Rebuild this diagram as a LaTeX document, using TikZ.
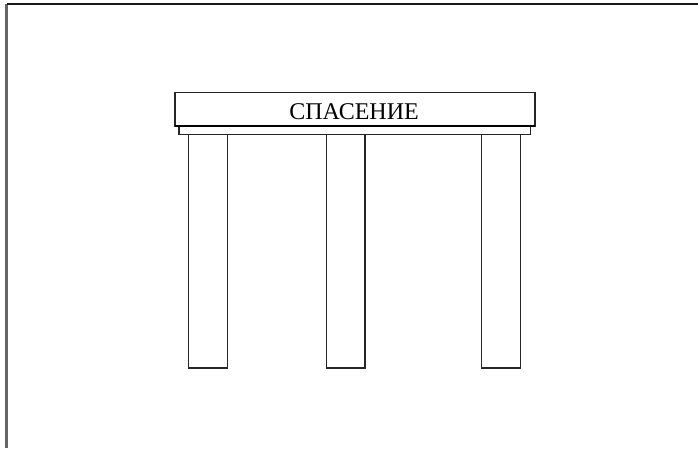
\documentclass[tikz,border=0pt]{standalone}
\usepackage{fontspec}
\setmainfont{Liberation Serif}
\begin{document}
\begin{tikzpicture}[x=1pt,y=-1pt,
  part/.style={draw=black!85,line width=1.1pt,fill=white},
  frame/.style={line width=2pt}]
\useasboundingbox (0,0) rectangle (698,448);
\draw[frame,black!60,line width=2.2pt] (6.5,448) -- (6.5,3.5);
\draw[frame,black!90] (6.5,3.5) -- (698,3.5);
% legs
\draw[part] (188.3,134.5) rectangle (227.5,368);
\draw[part] (326.7,134.5) rectangle (365,368);
\draw[part] (481.8,134.5) rectangle (520.7,368);
% strip
\draw[part] (179,126.3) rectangle (530.7,134.5);
% top board
\draw[part] (175,92.3) rectangle (535,126.3);
\draw[black,line width=1.8pt] (175,126.3) -- (535,126.3);
\node[anchor=base,inner sep=0pt,font=\fontsize{24}{28}\selectfont] (title) at (354,119) {СПАСЕНИЕ};
\end{tikzpicture}
\end{document}
